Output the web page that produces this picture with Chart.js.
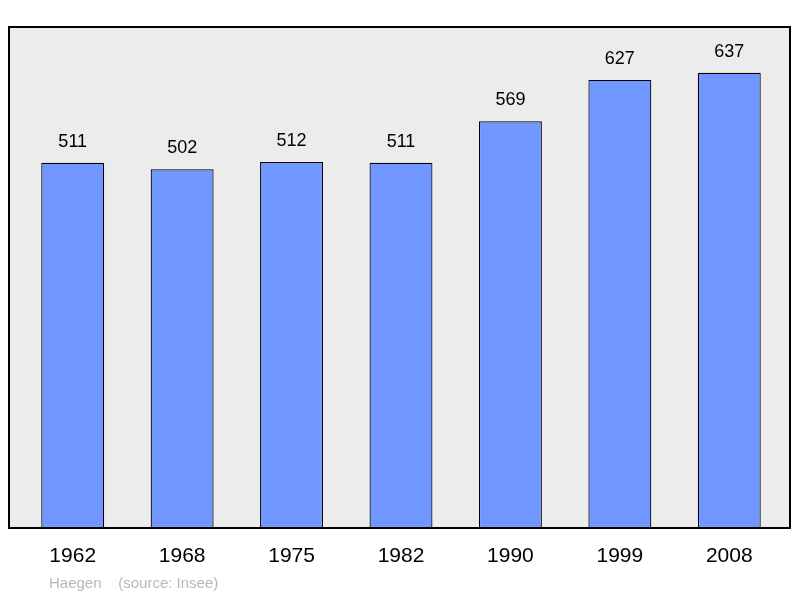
<!DOCTYPE html>
<html><head><meta charset="utf-8">
<script src="https://cdn.jsdelivr.net/npm/chart.js@4"></script>
<style>html,body{margin:0;padding:0;background:#fff}#wrap{width:800px;height:598px}</style>
</head><body><div id="wrap"><canvas id="c"></canvas></div>
<script>
const years = ['1962','1968','1975','1982','1990','1999','2008'];
const population = [511, 502, 512, 511, 569, 627, 637];
const credit = 'Haegen    (source: Insee)';

const frame = {
  id:'frame',
  beforeDraw(chart) {
    const ctx = chart.ctx, a = chart.chartArea;
    ctx.save();
    ctx.fillStyle = '#ececec';
    ctx.fillRect(9, a.top, 781, a.bottom - a.top);
    ctx.restore();
  },
  afterDraw(chart) {
    const ctx = chart.ctx, a = chart.chartArea;
    const x = chart.scales.x, meta = chart.getDatasetMeta(0);
    ctx.save();
    ctx.strokeStyle = '#000'; ctx.lineWidth = 2;
    ctx.strokeRect(9, a.top, 781, a.bottom - a.top);
    ctx.fillStyle = '#000'; ctx.textAlign = 'center';
    ctx.font = '18px "Liberation Sans", Arial, sans-serif';
    ctx.textBaseline = 'alphabetic';
    meta.data.forEach((b, i) => ctx.fillText(population[i], b.x, b.y - 16));
    ctx.font = '21px "Liberation Sans", Arial, sans-serif';
    ctx.textBaseline = 'middle';
    years.forEach((y, i) => ctx.fillText(y, x.getPixelForValue(i), 556));
    ctx.fillStyle = '#b8b8b8'; ctx.textAlign = 'left';
    ctx.font = '15px "Liberation Sans", Arial, sans-serif';
    ctx.fillText(credit, 49, 584);
    ctx.restore();
  }
};

new Chart(document.getElementById('c'), {
  type:'bar',
  data:{ labels:years, datasets:[{ data:population, backgroundColor:'#7097ff', borderColor:'#000', borderWidth:1.2, borderSkipped:false, categoryPercentage:1, barPercentage:0.575 }] },
  options:{
    responsive:true, maintainAspectRatio:false, animation:false,
    layout:{ padding:{ left:18, right:16, top:27, bottom:70 } },
    plugins:{ legend:{ display:false }, tooltip:{ enabled:false } },
    scales:{
      x:{ display:false },
      y:{ display:false, min:0, max:701 }
    }
  },
  plugins:[frame]
});
</script></body></html>
